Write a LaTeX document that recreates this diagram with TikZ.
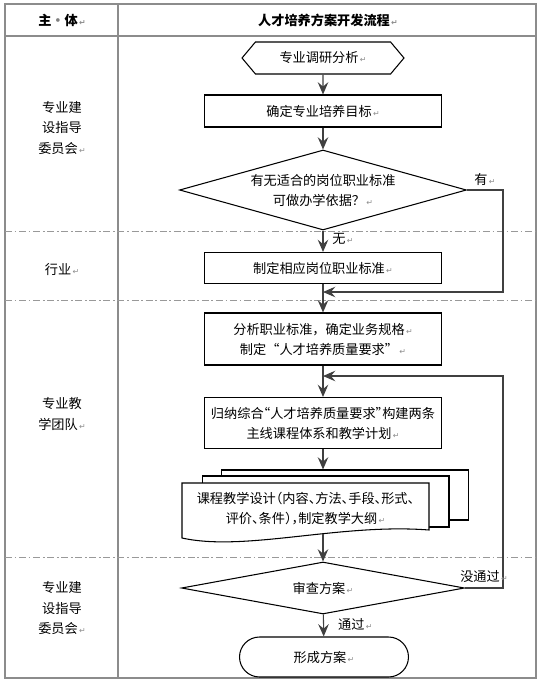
\documentclass[tikz,border=0pt]{standalone}
\usepackage{fontspec}
\usepackage{xcolor}
\usepackage{tikz}
\usetikzlibrary{shapes.geometric,shapes.symbols,shapes.misc,arrows.meta,positioning}
\setmainfont{Noto Sans CJK SC}
\newfontfamily\marksfont{DejaVu Sans}
\newcommand\enterm{{\marksfont\fontsize{4.5}{5}\selectfont\color{black!45}\,↵}}

\begin{document}
\begin{tikzpicture}[x=0.02cm,y=-0.02cm,
  every node/.style={font=\fontsize{7.5}{11.4}\selectfont,align=center,inner sep=0pt},
  narrow/.style={font=\addfontfeatures{RawFeature=+halt}\fontsize{7.5}{11.4}\selectfont},
  grid/.style={draw=black!45,line width=0.6pt},
  sep/.style={draw=black!40,line width=0.5pt,dash pattern=on 4pt off 1.5pt on 1pt off 1.5pt},
  flowbox/.style={draw,fill=white,line width=0.6pt,minimum width=4.74cm},
  hexbox/.style={draw,fill=white,line width=0.6pt,signal,signal to=west and east,
                 signal pointer angle=100,minimum width=3.24cm,minimum height=0.64cm},
  choice/.style={draw,fill=white,line width=0.6pt,diamond},
  endbox/.style={draw,fill=white,line width=0.6pt,rounded rectangle,
                 minimum width=3.38cm,minimum height=0.8cm},
  layer/.style={draw,fill=white,line width=0.6pt,minimum width=4.94cm},
  arr/.style={draw=black!75,line width=0.6pt,-{Stealth[length=7pt,width=6pt,inset=2.5pt]}},
  label/.style={font=\fontsize{7.5}{9}\selectfont}]

\useasboundingbox (0,0) rectangle (546,682);

\draw[grid] (5,4) rectangle (536,678);
\draw[grid] (5,36) -- (536,36);
\draw[grid] (118,4) -- (118,678);
\draw[sep] (5,231) -- (536,231);
\draw[sep] (5,300) -- (536,300);
\draw[sep] (5,557) -- (536,557);

\node (hsub) at (62,20) {\bfseries 主{\color{black!50}·}体\enterm};
\node (htitle) at (328,20) {\bfseries 人才培养方案开发流程\enterm};

\node (lab1) at (62,128) {专业建\\设指导\\委员会\enterm};
\node (lab2) at (62,270) {行业\enterm};
\node (lab3) at (62,414) {专业教\\学团队\enterm};
\node (lab4) at (62,608) {专业建\\设指导\\委员会\enterm};

\node[hexbox] (survey) at (323,58) {专业调研分析\enterm};
\node[flowbox,minimum height=0.64cm] (goal) at (323,111) {确定专业培养目标\enterm};
\node[choice,aspect=3.6,minimum width=5.74cm,minimum height=1.6cm] (chk) at (323,190)
  {有无适合的岗位职业标准\\可做办学依据？\enterm};
\node[flowbox,minimum height=0.62cm] (std) at (323,268) {制定相应岗位职业标准\enterm};
\node[flowbox,minimum height=1.04cm] (spec) at (323,339)
  {分析职业标准，确定业务规格\enterm\\制定“人才培养质量要求”\enterm};
\node[flowbox,narrow,minimum height=1.02cm] (plan) at (323,423)
  {归纳综合“人才培养质量要求”构建两条\\主线课程体系和教学计划\enterm};

\node[layer,minimum height=1.0cm] (docback) at (345,495) {};
\node[layer,minimum height=1.02cm] (docmid) at (325.5,501.5) {};
\draw[fill=white,line width=0.6pt] (182,483) -- (429,483) -- (429,530)
  .. controls (340,523) and (245,552) .. (182,538) -- cycle;
\node[narrow,minimum width=4.94cm,minimum height=1.08cm] (design) at (305.5,509)
  {课程教学设计（内容、方法、手段、形式、\\评价、条件），制定教学大纲\enterm};
\coordinate (docfoot) at (323,534);

\node[choice,aspect=5.4,minimum width=5.66cm,minimum height=1.04cm] (rev) at (323,588)
  {审查方案\enterm};
\node[endbox] (done) at (324,657) {形成方案\enterm};

\coordinate (join1) at (323,292);
\coordinate (right1) at (503,292);
\coordinate (join2) at (323,376);
\coordinate (right2) at (503,376);

\draw[arr] (survey) -- (goal);
\draw[arr] (goal) -- (chk);
\draw[arr] (chk) -- node[label,right=5pt,pos=0.4] {无\enterm} (std);
\draw[arr] (std) -- (spec);
\draw[arr] (chk.east) -- node[label,above=2pt] {有\enterm} (chk.east -| right1)
  -- (right1) -- (join1);
\draw[arr] (spec) -- (plan);
\draw[arr] (plan) -- (plan |- docback.north);
\draw[arr] (docfoot) -- (rev);
\draw[arr] (rev.east) -- node[label,above=3pt] {没通过\enterm} (rev.east -| right2)
  -- (right2) -- (join2);
\draw[arr] (rev) -- node[label,right=8pt,pos=0.45] {通过\enterm} (done);
\end{tikzpicture}
\end{document}
